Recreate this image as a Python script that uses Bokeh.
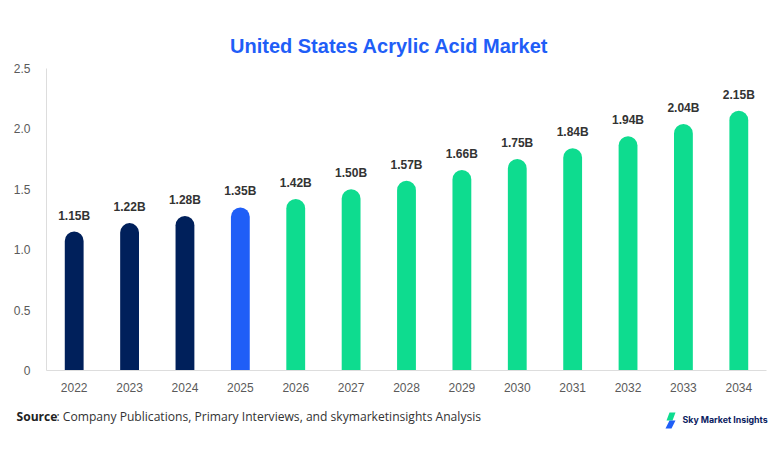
from bokeh.plotting import figure
from bokeh.layouts import column
from bokeh.models import ColumnDataSource, Range1d, FactorRange, FixedTicker, LabelSet
from bokeh.core.properties import value
from bokeh.embed import file_html
from bokeh.resources import INLINE

years = ["2022", "2023", "2024", "2025", "2026", "2027", "2028", "2029", "2030", "2031", "2032", "2033", "2034"]
values = [1.15, 1.22, 1.28, 1.35, 1.42, 1.50, 1.57, 1.66, 1.75, 1.84, 1.94, 2.04, 2.15]
value_labels = ["1.15B", "1.22B", "1.28B", "1.35B", "1.42B", "1.50B", "1.57B", "1.66B", "1.75B", "1.84B", "1.94B", "2.04B", "2.15B"]
y_ticks = [0, 0.5, 1.0, 1.5, 2.0, 2.5]
y_tick_labels = ["0", "0.5", "1.0", "1.5", "2.0", "2.5"]

title_text = "United States Acrylic Acid Market"
source_bold = "Source"
source_text = ": Company Publications, Primary Interviews, and skymarketinsights Analysis"
brand_text = "Sky Market Insights"

NAVY = "#00205b"
BLUE = "#1f5ef7"
GREEN = "#0edc8f"
colors = [NAVY, NAVY, NAVY, BLUE] + [GREEN] * 9

W = 782


def blank(height):
    f = figure(width=W, height=height, x_range=Range1d(0, W), y_range=Range1d(0, height),
               output_backend="svg", toolbar_location=None, min_border=0, frame_align=False)
    f.axis.visible = False
    f.grid.grid_line_color = None
    f.outline_line_color = None
    f.border_fill_color = "white"
    return f


# header with title
hdr = blank(60)
hdr.text(x=[389], y=[15], text=[title_text], text_align="center", text_baseline="middle",
         text_font=value("Liberation Sans"), text_font_style="bold", text_font_size="20px",
         text_color=BLUE)

# main chart
src = ColumnDataSource(dict(x=years, top=values, label=value_labels, color=colors))
p = figure(width=W, height=340, x_range=FactorRange(*years, range_padding=0),
           y_range=Range1d(0, 2.5), output_backend="svg", toolbar_location=None,
           min_border_left=46, min_border_right=16, min_border_top=8, min_border_bottom=30,
           frame_align=False)
p.outline_line_color = None
p.border_fill_color = "white"
p.xgrid.grid_line_color = None
p.ygrid.grid_line_color = None

p.vbar(x="x", top="top", width=0.34, source=src, fill_color="color", line_color=None,
       border_radius=(10, 10, 0, 0))

labels = LabelSet(x="x", y="top", text="label", source=src, text_align="center",
                  text_baseline="bottom", y_offset=9, text_font=value("Liberation Sans"),
                  text_font_style="bold", text_font_size="12px", text_color="#333333")
p.add_layout(labels)

p.yaxis.ticker = FixedTicker(ticks=y_ticks)
p.yaxis.major_label_overrides = {t: l for t, l in zip(y_ticks, y_tick_labels)}
for ax in (p.xaxis[0], p.yaxis[0]):
    ax.axis_line_color = "#dddddd"
    ax.major_tick_line_color = None
    ax.minor_tick_line_color = None
    ax.major_label_text_font = "Liberation Sans"
    ax.major_label_text_font_size = "12px"
    ax.major_label_text_color = "#5a5a5a"
p.xaxis.major_label_standoff = 6
p.yaxis.major_label_standoff = 10

# footer with source and brand
ftr = blank(54)
ftr.text(x=[16], y=[38], text=[source_bold], text_align="left", text_baseline="middle",
         text_font=value("Open Sans"), text_font_style="bold", text_font_size="12.1px",
         text_color="#222222")
ftr.text(x=[56], y=[38], text=[source_text], text_align="left", text_baseline="middle",
         text_font=value("Open Sans"), text_font_size="12.1px", text_color="#333333")
ftr.text(x=[682], y=[35], text=[brand_text], text_align="left", text_baseline="middle",
         text_font=value("Inter"), text_font_style="bold", text_font_size="8.8px",
         text_color="#0a2160")
ftr.patches(xs=[[669, 675, 672, 666], [669, 675, 671, 665]],
            ys=[[42, 42, 34, 34], [34, 34, 26, 26]],
            fill_color=[GREEN, BLUE], line_color=None)

layout = column(hdr, p, ftr, spacing=0)
open("out.html", "w").write(file_html(layout, INLINE))
